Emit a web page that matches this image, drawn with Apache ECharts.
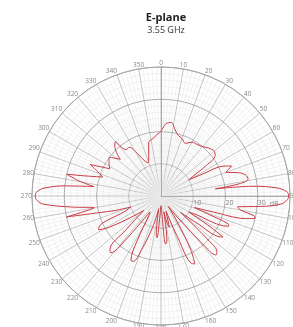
<!DOCTYPE html>
<html>
<head>
<meta charset="utf-8">
<script src="https://cdn.jsdelivr.net/npm/echarts@6/dist/echarts.min.js"></script>
<style>
  html, body { margin: 0; padding: 0; background: #fff; }
  #chart { width: 293px; height: 327px; }
</style>
</head>
<body>
<div id="chart"></div>
<script>
// E-plane pattern, angle in degrees (clockwise from top), level in dB
const angleDeg = [
  0, 4, 8, 12, 16, 20, 25, 30, 35, 40, 45, 50, 53, 56, 58, 60, 62, 65, 67, 70, 73, 76, 79, 81, 82.5,
  84, 86, 88, 90, 92, 94, 96, 98, 100, 102, 103.5, 105, 107, 109, 111, 112.5, 114, 115.5, 118, 120,
  122, 123.5, 125, 127, 130, 133, 135, 137, 139, 142, 145, 148, 151, 153.5, 155.5, 158, 162, 165,
  167, 170, 172.5, 174.5, 177, 180,
  183, 185.5, 187, 190, 195, 200, 203, 205, 208, 212, 215, 219, 221.5, 223.5, 226, 230, 235, 239,
  241.5, 243.5, 247, 250, 252.5, 255, 257.5, 260, 263,
  266, 268, 270, 272, 274, 276, 278, 280.5, 283, 285, 288, 291, 294, 298, 302, 307, 312, 317, 320, 323,
  327, 331, 335, 339, 343, 347, 352, 356, 360
]
const gainDb = [
  20, 22.5, 23, 21, 19.5, 19, 18, 19.3, 19.5, 20, 21, 21.6, 21, 17, 12, 10, 14, 22, 23.8, 21.4, 24.8, 27, 27.5, 25, 17,
  29, 36, 39, 39.6, 39, 37, 31, 24, 25, 29.5, 30, 27, 17, 11, 16, 22.5, 23, 21.5, 12, 10,
  18, 23, 22, 14, 8, 20, 24.5, 25, 20, 9, 4, 10, 19, 23.5, 23, 14, 5, 10,
  9, 5, 14, 15, 6, 3,
  6, 13, 12, 4, 10, 18, 22, 22, 16, 7, 6, 18, 23.5, 23, 15, 7, 12, 19,
  22, 21.5, 12, 10, 15, 20, 30, 21, 28,
  36.5, 38.5, 39, 38.5, 36, 30, 21, 26, 30, 24, 19, 21, 24, 18, 19, 20, 17, 21, 22, 18,
  18, 15, 12, 11, 13, 17, 18, 19, 20
]
const radiusTicks = [10, 20, 30]

const chart = echarts.init(document.getElementById('chart'))

const gridMinor = { show: true, lineStyle: { color: '#e9e9e9', width: 0.6 } }

chart.setOption({
  animation: false,
  backgroundColor: '#fff',
  textStyle: { fontFamily: 'Open Sans' },
  title: {
    text: 'E-plane',
    subtext: '3.55 GHz',
    left: 161,
    top: 7,
    textAlign: 'center',
    itemGap: 3,
    textStyle: { fontSize: 11, fontWeight: 'bold', color: '#222', fontFamily: 'Open Sans' },
    subtextStyle: { fontSize: 9, color: '#333', fontFamily: 'Open Sans' }
  },
  polar: [
    { center: [161, 196], radius: 129 },
    { center: [161, 196], radius: 129 }
  ],
  angleAxis: [
    {
      polarIndex: 0,
      type: 'value',
      min: 0,
      max: 360,
      interval: 10,
      startAngle: 90,
      clockwise: true,
      axisLine: { lineStyle: { color: '#a5a5a5', width: 0.8 } },
      axisTick: { show: false },
      axisLabel: {
        margin: 0,
        fontSize: 6.5,
        color: '#8a8a8a',
        formatter: v => (v === 360 ? '' : v)
      },
      splitLine: { show: true, lineStyle: { color: '#aaa', width: 0.7 } },
      minorTick: { show: false, splitNumber: 5 },
      minorSplitLine: gridMinor
    },
    {
      polarIndex: 1,
      type: 'value',
      min: 0,
      max: 360,
      startAngle: 0,
      show: false
    }
  ],
  radiusAxis: [
    {
      polarIndex: 0,
      type: 'value',
      min: 0,
      max: 40,
      interval: 10,
      axisLine: { show: true, lineStyle: { color: '#999', width: 0.8 } },
      axisTick: { show: false },
      axisLabel: { show: false },
      splitLine: { show: true, lineStyle: { color: '#8c8c8c', width: 0.8 } },
      minorTick: { show: false, splitNumber: 5 },
      minorSplitLine: gridMinor
    },
    {
      polarIndex: 1,
      type: 'value',
      min: 0,
      max: 40,
      interval: 10,
      name: 'dB',
      nameLocation: 'end',
      nameGap: -22,
      nameTextStyle: { fontSize: 7, color: '#888', verticalAlign: 'top', padding: [4, 0, 0, 0] },
      axisLine: { show: true, lineStyle: { color: '#999', width: 0.8 } },
      axisTick: { show: false },
      splitLine: { show: false },
      axisLabel: {
        fontSize: 7,
        color: '#888',
        margin: -3,
        align: 'left',
        verticalAlign: 'top',
        formatter: v => (radiusTicks.includes(v) ? v : '')
      }
    }
  ],
  series: [
    {
      type: 'line',
      coordinateSystem: 'polar',
      polarIndex: 0,
      smooth: 0.35,
      symbol: 'none',
      lineStyle: { color: '#c83a44', width: 1 },
      data: angleDeg.map((a, i) => [gainDb[i], a])
    }
  ]
})
</script>
</body>
</html>
